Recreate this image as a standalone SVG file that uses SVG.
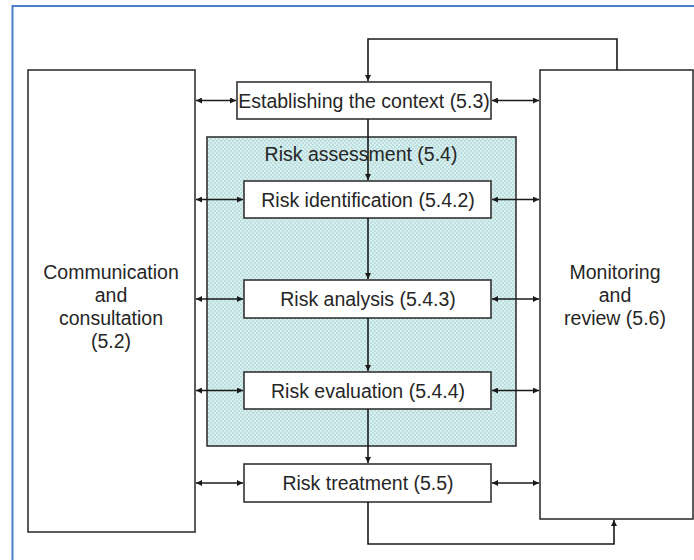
<svg xmlns="http://www.w3.org/2000/svg" width="694" height="560" viewBox="0 0 694 560">
  <defs>
    <pattern id="hatch" width="4" height="4" patternUnits="userSpaceOnUse">
      <rect width="4" height="4" fill="#d8eff0"/>
      <rect width="2" height="2" fill="#bddfe0"/>
      <rect x="2" y="2" width="2" height="2" fill="#bddfe0"/>
    </pattern>
    <marker id="arr" viewBox="0 0 10 10" refX="10" refY="5" markerWidth="7" markerHeight="6" markerUnits="userSpaceOnUse" orient="auto-start-reverse">
      <path d="M0,0 L10,5 L0,10 z" fill="#1a1a1a"/>
    </marker>
    <style>
      .box { fill: #ffffff; stroke: #333333; stroke-width: 1.6; }
      .group { fill: url(#hatch); stroke: #333333; stroke-width: 1.6; }
      .lbl { font-family: "Liberation Sans", Arial, sans-serif; font-size: 19.5px; fill: #262626; text-anchor: middle; }
      .line { fill: none; stroke: #1a1a1a; stroke-width: 1.6; }
      .both { marker-start: url(#arr); marker-end: url(#arr); }
      .one { marker-end: url(#arr); }
    </style>
  </defs>

  <rect width="694" height="560" fill="#ffffff"/>
  <!-- frame -->
  <rect x="12.5" y="6" width="700" height="600" fill="none" stroke="#4a7fc9" stroke-width="2"/>

  <g id="risk-assessment">
    <rect class="group" x="207" y="137" width="309" height="309"/>
    <text class="lbl" x="361" y="161">Risk assessment (5.4)</text>
  </g>

  <g id="communication">
    <rect class="box" x="28" y="70" width="167" height="462"/>
    <text class="lbl" x="111" y="279">Communication</text>
    <text class="lbl" x="111" y="302">and</text>
    <text class="lbl" x="111" y="325">consultation</text>
    <text class="lbl" x="111" y="348">(5.2)</text>
  </g>

  <g id="monitoring">
    <rect class="box" x="540" y="70" width="153" height="449"/>
    <text class="lbl" x="615" y="279">Monitoring</text>
    <text class="lbl" x="615" y="302">and</text>
    <text class="lbl" x="615" y="325">review (5.6)</text>
  </g>

  <g id="context">
    <rect class="box" x="237" y="82" width="254" height="37"/>
    <text class="lbl" x="364" y="107.5">Establishing the context (5.3)</text>
  </g>

  <g id="identification">
    <rect class="box" x="244" y="181" width="247" height="37"/>
    <text class="lbl" x="368" y="206.5">Risk identification (5.4.2)</text>
  </g>

  <g id="analysis">
    <rect class="box" x="244" y="280" width="247" height="38"/>
    <text class="lbl" x="368" y="306">Risk analysis (5.4.3)</text>
  </g>

  <g id="evaluation">
    <rect class="box" x="244" y="372" width="247" height="37"/>
    <text class="lbl" x="368" y="397.5">Risk evaluation (5.4.4)</text>
  </g>

  <g id="treatment">
    <rect class="box" x="244" y="464" width="247" height="38"/>
    <text class="lbl" x="368" y="490">Risk treatment (5.5)</text>
  </g>

  <g id="connectors">
    <!-- communication links -->
    <line class="line both" x1="196" y1="100.5" x2="236" y2="100.5"/>
    <line class="line both" x1="196" y1="199.5" x2="243" y2="199.5"/>
    <line class="line both" x1="196" y1="299" x2="243" y2="299"/>
    <line class="line both" x1="196" y1="390.5" x2="243" y2="390.5"/>
    <line class="line both" x1="196" y1="483" x2="243" y2="483"/>
    <!-- monitoring links -->
    <line class="line both" x1="492" y1="100.5" x2="539" y2="100.5"/>
    <line class="line both" x1="492" y1="199.5" x2="539" y2="199.5"/>
    <line class="line both" x1="492" y1="299" x2="539" y2="299"/>
    <line class="line both" x1="492" y1="390.5" x2="539" y2="390.5"/>
    <line class="line both" x1="492" y1="483" x2="539" y2="483"/>
    <!-- main flow -->
    <line class="line one" x1="368" y1="119" x2="368" y2="180"/>
    <line class="line one" x1="368" y1="218" x2="368" y2="279"/>
    <line class="line one" x1="368" y1="318" x2="368" y2="371"/>
    <line class="line one" x1="368" y1="409" x2="368" y2="463"/>
    <!-- review loops -->
    <path class="line one" d="M617,70 V39 H368 V81"/>
    <path class="line one" d="M368,502 V544 H614 V520"/>
  </g>
</svg>
